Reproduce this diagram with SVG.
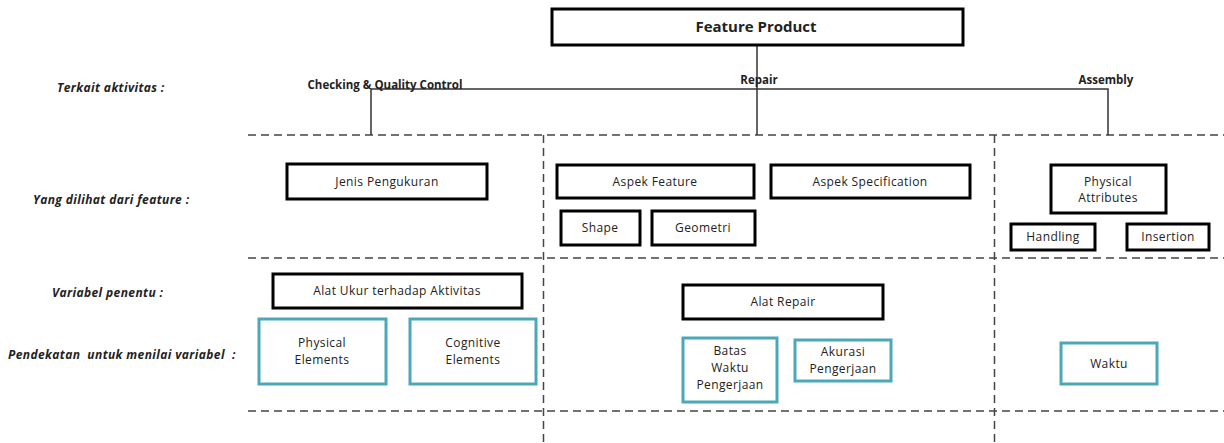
<svg xmlns="http://www.w3.org/2000/svg" width="1224" height="443" viewBox="0 0 1224 443">
<style>
  .bx{fill:#fff;stroke:#000;stroke-width:3}
  .tl{fill:#fff;stroke:#4aa8b8;stroke-width:3}
  .t{font-family:"Open Sans","Liberation Sans",sans-serif;font-size:12px;letter-spacing:0.4px;fill:#222;text-anchor:middle}
  .lbl{font-family:"Open Sans","Liberation Sans",sans-serif;font-size:12px;letter-spacing:0.4px;font-weight:bold;font-style:italic;fill:#222}
  .act{font-family:"Open Sans","Liberation Sans",sans-serif;font-size:11.5px;font-weight:bold;fill:#222;text-anchor:middle}
  .ln{stroke:#333;stroke-width:1.5;fill:none}
  .ds{stroke:#444;stroke-width:1.5;fill:none;stroke-dasharray:8 5}
</style>
<rect width="1224" height="443" fill="#fff"/>
<g id="grid">
  <line class="ds" x1="248" y1="135" x2="1224" y2="135"/>
  <line class="ds" x1="248" y1="258" x2="1224" y2="258"/>
  <line class="ds" x1="248" y1="411" x2="1224" y2="411"/>
  <line class="ds" x1="543.5" y1="135" x2="543.5" y2="443"/>
  <line class="ds" x1="994.5" y1="135" x2="994.5" y2="443"/>
</g>
<g id="row-labels">
  <text class="lbl" x="57" y="92">Terkait  aktivitas :</text>
  <text class="lbl" x="33" y="204">Yang dilihat dari feature :</text>
  <text class="lbl" x="52" y="297">Variabel penentu :</text>
  <text class="lbl" x="8" y="359" xml:space="preserve">Pendekatan  untuk menilai variabel  :</text>
</g>
<g id="connectors">
  <line class="ln" x1="757" y1="45" x2="757" y2="135"/>
  <polyline class="ln" points="371,135 371,89 1108,89 1108,135"/>
</g>
<g id="activity-labels">
  <text class="act" x="385" y="89">Checking &amp; Quality Control</text>
  <text class="act" x="759" y="84">Repair</text>
  <text class="act" x="1106" y="84">Assembly</text>
</g>
<g id="feature-product">
  <rect class="bx" x="552" y="9" width="411" height="36"/>
  <text class="t" x="756" y="32" style="font-size:15px;font-weight:bold;letter-spacing:0">Feature Product</text>
</g>
<g id="jenis-pengukuran">
  <rect class="bx" x="287" y="164" width="200" height="35"/>
  <text class="t" x="387" y="186">Jenis Pengukuran</text>
</g>
<g id="aspek-feature">
  <rect class="bx" x="557" y="165" width="197" height="33"/>
  <text class="t" x="655" y="186">Aspek Feature</text>
</g>
<g id="aspek-specification">
  <rect class="bx" x="771" y="165" width="199" height="33"/>
  <text class="t" x="870" y="186">Aspek Specification</text>
</g>
<g id="shape">
  <rect class="bx" x="561" y="211" width="79" height="34"/>
  <text class="t" x="600" y="232">Shape</text>
</g>
<g id="geometri">
  <rect class="bx" x="652" y="211" width="103" height="34"/>
  <text class="t" x="703" y="232">Geometri</text>
</g>
<g id="physical-attributes">
  <rect class="bx" x="1051" y="165" width="115" height="48"/>
  <text class="t" x="1108" y="186">Physical</text>
  <text class="t" x="1108" y="202">Attributes</text>
</g>
<g id="handling">
  <rect class="bx" x="1011" y="224" width="84" height="26"/>
  <text class="t" x="1053" y="241">Handling</text>
</g>
<g id="insertion">
  <rect class="bx" x="1127" y="224" width="82" height="26"/>
  <text class="t" x="1168" y="241">Insertion</text>
</g>
<g id="alat-ukur">
  <rect class="bx" x="273" y="274" width="249" height="34"/>
  <text class="t" x="397" y="295">Alat Ukur terhadap Aktivitas</text>
</g>
<g id="alat-repair">
  <rect class="bx" x="683" y="285" width="200" height="34"/>
  <text class="t" x="783" y="306">Alat Repair</text>
</g>
<g id="physical-elements">
  <rect class="tl" x="259" y="319" width="127" height="65"/>
  <text class="t" x="322" y="347">Physical</text>
  <text class="t" x="322" y="364">Elements</text>
</g>
<g id="cognitive-elements">
  <rect class="tl" x="410" y="319" width="126" height="65"/>
  <text class="t" x="473" y="347">Cognitive</text>
  <text class="t" x="473" y="364">Elements</text>
</g>
<g id="batas-waktu">
  <rect class="tl" x="683" y="338" width="94" height="64"/>
  <text class="t" x="730" y="355">Batas</text>
  <text class="t" x="730" y="372">Waktu</text>
  <text class="t" x="730" y="389">Pengerjaan</text>
</g>
<g id="akurasi">
  <rect class="tl" x="795" y="340" width="96" height="41"/>
  <text class="t" x="843" y="356">Akurasi</text>
  <text class="t" x="843" y="373">Pengerjaan</text>
</g>
<g id="waktu">
  <rect class="tl" x="1061" y="343" width="96" height="41"/>
  <text class="t" x="1109" y="368">Waktu</text>
</g>
</svg>
